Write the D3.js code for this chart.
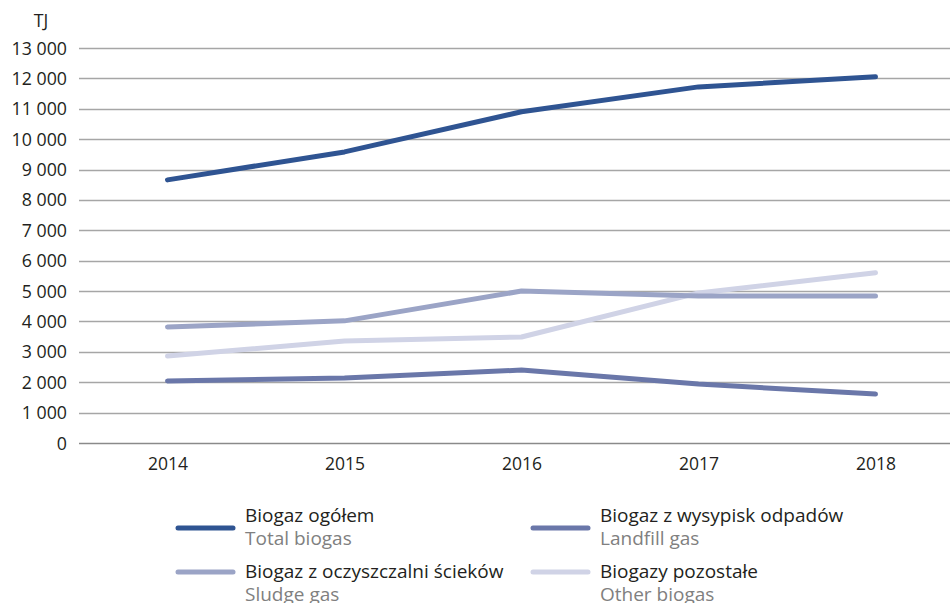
<!DOCTYPE html>
<html>
<head>
<meta charset="utf-8">
<script src="https://cdn.jsdelivr.net/npm/d3@7"></script>
<style>
  body { margin: 0; background: #fff; }
  svg { display: block; font-family: "Open Sans", "Noto Sans", sans-serif; }
</style>
</head>
<body>
<svg id="chart" width="950" height="603"></svg>
<script>
// Biogas production in Poland, TJ
const years = ["2014", "2015", "2016", "2017", "2018"];
const totalBiogas = [8660, 9580, 10900, 11720, 12050];
const landfillGas = [2040, 2140, 2400, 1940, 1610];
const sludgeGas = [3820, 4020, 5000, 4840, 4840];
const otherBiogas = [2860, 3360, 3490, 4940, 5600];
const yTicks = [0, 1000, 2000, 3000, 4000, 5000, 6000, 7000, 8000, 9000, 10000, 11000, 12000, 13000];

const seriesNames = [
  { pl: "Biogaz ogółem", en: "Total biogas" },
  { pl: "Biogaz z wysypisk odpadów", en: "Landfill gas" },
  { pl: "Biogaz z oczyszczalni ścieków", en: "Sludge gas" },
  { pl: "Biogazy pozostałe", en: "Other biogas" }
];
const seriesValues = [totalBiogas, landfillGas, sludgeGas, otherBiogas];
const colors = ["#2f5492", "#6a77a9", "#9ba4c6", "#d0d3e6"];

const svg = d3.select("#chart");
const plotLeft = 79, plotRight = 964, plotTop = 48, plotBottom = 443;

const x = d3.scalePoint().domain(years).range([plotLeft, plotRight]).padding(0.5);
const y = d3.scaleLinear().domain([0, 13000]).range([plotBottom, plotTop]);

// Horizontal grid
svg.append("g").selectAll("line").data(yTicks).join("line")
  .attr("x1", plotLeft).attr("x2", 950)
  .attr("y1", d => Math.round(y(d)) + 0.5).attr("y2", d => Math.round(y(d)) + 0.5)
  .attr("stroke", d => d === 0 ? "#8a8a8a" : "#a6a6a6")
  .attr("stroke-width", 1.3);

// Y axis labels
const yAxis = d3.axisLeft(y).tickValues(yTicks).tickSize(0).tickPadding(0)
  .tickFormat(d => d === 0 ? "0" : (Math.floor(d / 1000) + " 000"));
svg.append("g").attr("transform", "translate(67,0)").call(yAxis)
  .call(g => g.select(".domain").remove())
  .call(g => g.selectAll("text").attr("font-size", 17.8).attr("fill", "#231f20")
    .attr("font-family", "'Open Sans', sans-serif").attr("dy", "0.34em"));

svg.append("text").attr("x", 41).attr("y", 27).attr("text-anchor", "middle")
  .attr("font-size", 17.8).attr("fill", "#231f20").text("TJ");

// X axis labels
const xAxis = d3.axisBottom(x).tickSize(0).tickPadding(0);
svg.append("g").attr("transform", "translate(0,458)").call(xAxis)
  .call(g => g.select(".domain").remove())
  .call(g => g.selectAll("text").attr("font-size", 17.5).attr("fill", "#231f20")
    .attr("font-family", "'Open Sans', sans-serif"));

// Series lines
const line = d3.line().x((d, i) => x(years[i])).y(d => y(d));
const drawOrder = [3, 2, 1, 0];
svg.append("g").selectAll("path").data(drawOrder).join("path")
  .attr("d", i => line(seriesValues[i]))
  .attr("fill", "none")
  .attr("stroke", i => colors[i])
  .attr("stroke-width", 5)
  .attr("stroke-linecap", "round")
  .attr("stroke-linejoin", "round");

// Legend: swatch line, Polish name, English name below it
const legendPos = [
  { sx: 178, tx: 245, sy: 528, ty: 522 },
  { sx: 533, tx: 600, sy: 528, ty: 522 },
  { sx: 178, tx: 245, sy: 572, ty: 578 },
  { sx: 533, tx: 600, sy: 572, ty: 578 }
];
const lg = svg.append("g").selectAll("g").data(seriesNames).join("g");
lg.append("line")
  .attr("x1", (d, i) => legendPos[i].sx).attr("x2", (d, i) => legendPos[i].sx + 55)
  .attr("y1", (d, i) => legendPos[i].sy).attr("y2", (d, i) => legendPos[i].sy)
  .attr("stroke", (d, i) => colors[i]).attr("stroke-width", 5).attr("stroke-linecap", "round");
lg.append("text")
  .attr("x", (d, i) => legendPos[i].tx).attr("y", (d, i) => legendPos[i].ty)
  .attr("font-size", 19).attr("fill", "#231f20").text(d => d.pl);
lg.append("text")
  .attr("x", (d, i) => legendPos[i].tx).attr("y", (d, i) => legendPos[i].ty + 23)
  .attr("font-size", 19).attr("fill", "#808080").text(d => d.en);
</script>
</body>
</html>
